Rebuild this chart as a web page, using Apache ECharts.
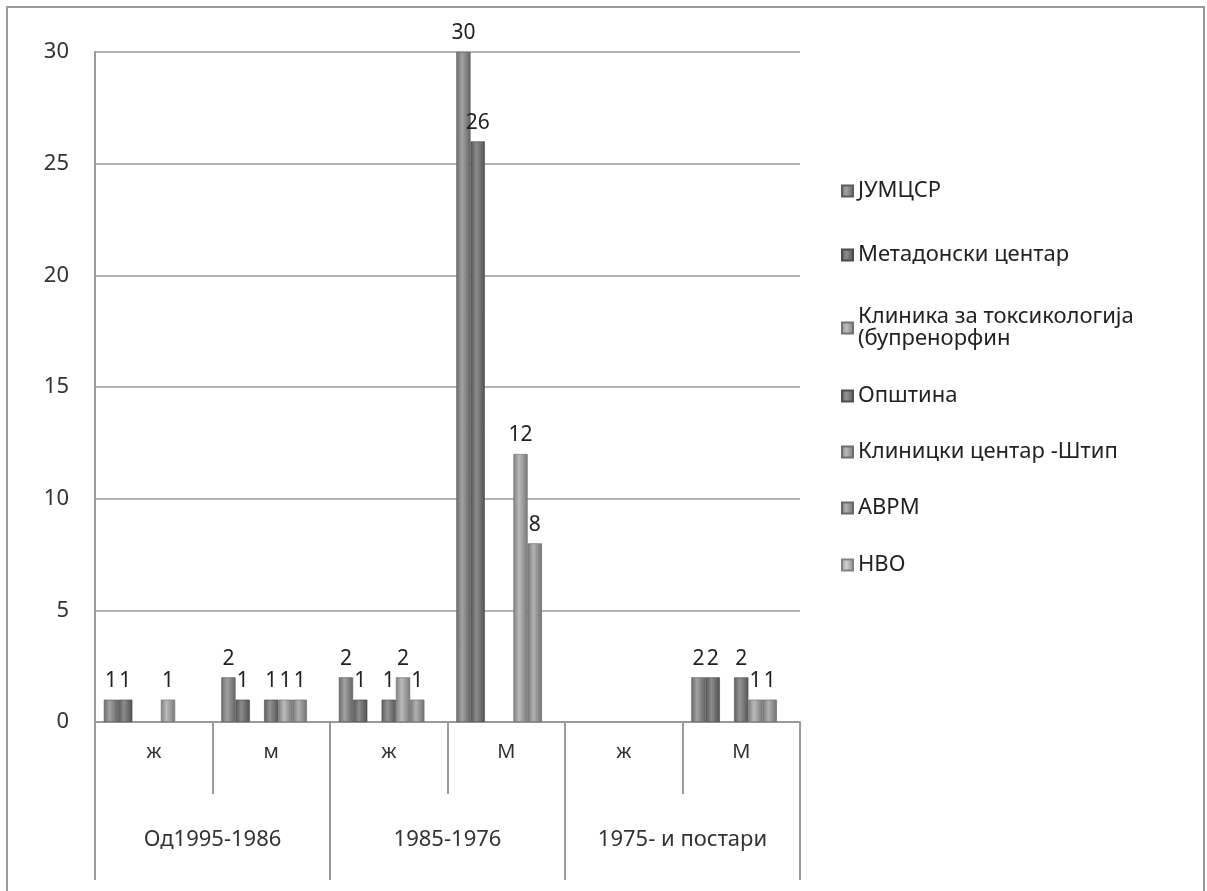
<!DOCTYPE html>
<html>
<head>
<meta charset="utf-8">
<script src="https://cdn.jsdelivr.net/npm/echarts@6/dist/echarts.min.js"></script>
<style>html,body{margin:0;padding:0;background:#fff}#c{width:1207px;height:891px}</style>
</head>
<body>
<div id="c"></div>
<script>
var subCategories = ['ж', 'м', 'ж', 'М', 'ж', 'М'];
var groupCategories = ['Од1995-1986', '1985-1976', '1975- и постари'];
var yTicks = [0, 5, 10, 15, 20, 25, 30];

var seriesNames = ['ЈУМЦСР', 'Метадонски центар', 'Клиника за токсикологија (бупренорфин', 'Општина', 'Клиницки центар -Штип', 'АВРМ', 'НВО'];
var jumcsr      = [1, 2, 2, 30, null, 2];
var metadonski  = [1, 1, 1, 26, null, 2];
var klinikaTox  = [null, null, null, null, null, null];
var opstina     = [null, 1, 1, null, null, 2];
var klinickiSt  = [1, 1, 2, 12, null, 1];
var avrm        = [null, 1, 1, 8, null, 1];
var nvo         = [null, null, null, null, null, null];
var seriesValues = [jumcsr, metadonski, klinikaTox, opstina, klinickiSt, avrm, nvo];

var baseColors = ['#8e8e8e', '#737373', '#b3b3b3', '#7b7b7b', '#ababab', '#a0a0a0', '#c8c8c8'];
var legendTops = [175, 239, 301, 380, 436, 492, 549];

function shade(hex, f) {
  var n = parseInt(hex.slice(1), 16);
  var r = (n >> 16) & 255, g = (n >> 8) & 255, b = n & 255;
  function c(v) { v = Math.round(f < 0 ? v * (1 + f) : v + (255 - v) * f); return Math.max(0, Math.min(255, v)); }
  return 'rgb(' + c(r) + ',' + c(g) + ',' + c(b) + ')';
}
function cyl(hex) {
  return new echarts.graphic.LinearGradient(0, 0, 1, 0, [
    { offset: 0, color: shade(hex, -0.25) },
    { offset: 0.4, color: shade(hex, 0.18) },
    { offset: 1, color: shade(hex, -0.3) }
  ]);
}

var FONT = 'Noto Sans';
var chart = echarts.init(document.getElementById('c'), null, { renderer: 'canvas' });

var series = seriesNames.map(function (name, i) {
  return {
    name: name,
    type: 'bar',
    xAxisIndex: 0,
    data: seriesValues[i],
    barGap: '0%',
    barCategoryGap: '15%',
    itemStyle: { color: cyl(baseColors[i]), borderColor: shade(baseColors[i], -0.35), borderWidth: 0.6 },
    label: { show: true, position: 'top', distance: 8, fontFamily: FONT, fontSize: 21, color: '#222' }
  };
});

var legends = seriesNames.map(function (name, i) {
  return {
    data: [name],
    left: 836,
    top: legendTops[i],
    orient: 'vertical',
    icon: 'rect',
    itemWidth: 11,
    itemHeight: 11,
    itemGap: 0,
    selectedMode: false,
    formatter: function (n) { return n.replace('токсикологија ', 'токсикологија\n'); },
    textStyle: { fontFamily: FONT, fontSize: 22, color: '#222', lineHeight: 22 }
  };
});

chart.setOption({
  animation: false,
  backgroundColor: '#fff',
  graphic: [{
    type: 'rect', shape: { x: 7, y: 7, width: 1197, height: 900 },
    style: { fill: 'none', stroke: '#9a9a9a', lineWidth: 2 }, silent: true
  }],
  legend: legends,
  grid: { left: 95, right: 407, top: 52, bottom: 169, containLabel: false },
  xAxis: [{
    type: 'category',
    data: subCategories,
    position: 'bottom',
    axisLine: { show: true, lineStyle: { color: '#9a9a9a', width: 2 } },
    axisTick: { show: true, interval: 0, length: 72, lineStyle: { color: '#9a9a9a', width: 2 } },
    axisLabel: { interval: 0, margin: 20, fontFamily: FONT, fontSize: 20, color: '#333' }
  }, {
    type: 'category',
    data: groupCategories,
    position: 'bottom',
    axisLine: { show: false },
    axisTick: { show: true, interval: 0, length: 158, lineStyle: { color: '#9a9a9a', width: 2 } },
    axisLabel: { interval: 0, margin: 107, fontFamily: FONT, fontSize: 22, color: '#333' }
  }],
  yAxis: {
    type: 'value',
    min: yTicks[0],
    max: yTicks[yTicks.length - 1],
    interval: yTicks[1] - yTicks[0],
    axisLine: { show: true, lineStyle: { color: '#9a9a9a', width: 2 } },
    axisTick: { show: false },
    axisLabel: { margin: 26, fontFamily: FONT, fontSize: 22, color: '#333' },
    splitLine: { show: true, lineStyle: { color: '#9a9a9a', width: 1.6 } }
  },
  series: series
});
</script>
</body>
</html>
